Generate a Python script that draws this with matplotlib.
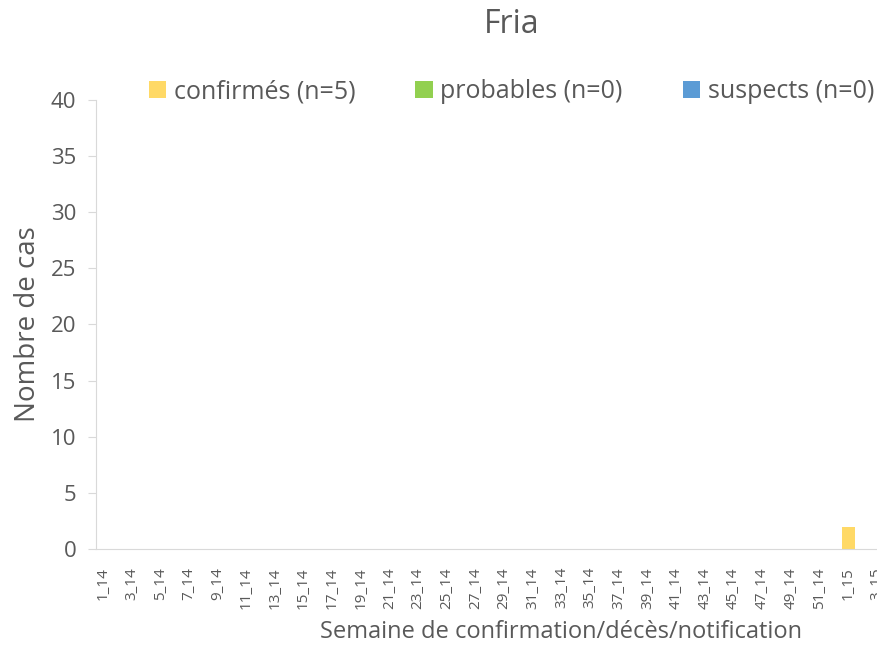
import numpy as np
import matplotlib.pyplot as plt

plt.rcParams['font.family'] = ['Open Sans', 'DejaVu Sans']

# semaines 1_14 .. 52_14 puis 1_15 .. 6_15
semaines = ['%d_14' % w for w in range(1, 53)] + ['%d_15' % w for w in range(1, 7)]
confirmes = [0] * 52 + [2, 0, 0, 0, 0, 0]
probables = [0] * 58
suspects = [0] * 58

gris = '#595959'
c_conf = '#FFD966'
c_prob = '#92D050'
c_susp = '#5B9BD5'


def trace():
    fig = plt.figure(figsize=(8.77, 6.47), dpi=100)
    ax = fig.add_axes([0.109, 0.1515, 0.948, 0.694])

    x = np.arange(len(semaines))
    conf = np.array(confirmes)
    prob = np.array(probables)
    susp = np.array(suspects)
    ax.bar(x, conf, width=0.9, color=c_conf, label='confirmés (n=5)')
    ax.bar(x, prob, width=0.9, bottom=conf, color=c_prob, label='probables (n=0)')
    ax.bar(x, susp, width=0.9, bottom=conf + prob, color=c_susp, label='suspects (n=0)')

    ax.set_xlim(-0.5, len(semaines) - 0.5)
    ax.set_ylim(0, 40)
    ax.set_yticks(np.arange(0, 41, 5))
    ax.set_xticks(x[::2])
    ax.set_xticklabels(semaines[::2], rotation=90, fontsize=11, color=gris)

    for s in ['top', 'right']:
        ax.spines[s].set_visible(False)
    for s in ['left', 'bottom']:
        ax.spines[s].set_color('#D9D9D9')
    ax.tick_params(axis='y', colors='#D9D9D9', labelcolor=gris, labelsize=16, length=6, pad=8)
    ax.tick_params(axis='x', length=0, pad=13)

    ax.set_ylabel('Nombre de cas', fontsize=20, color=gris, labelpad=6)
    ax.set_xlabel('Semaine de confirmation/décès/notification', fontsize=17, color=gris)
    ax.xaxis.set_label_coords(0.56, -0.158)
    fig.text(0.584, 0.962, 'Fria', ha='center', va='center', fontsize=23, color=gris)

    fig.legend(loc='center', bbox_to_anchor=(0.583, 0.858), ncol=3, frameon=False,
               fontsize=18, labelcolor=gris, handlelength=0.7, handleheight=0.7,
               handletextpad=0.3, columnspacing=2.4)

    fig.savefig('out.png', dpi=100)


if __name__ == '__main__':
    trace()
